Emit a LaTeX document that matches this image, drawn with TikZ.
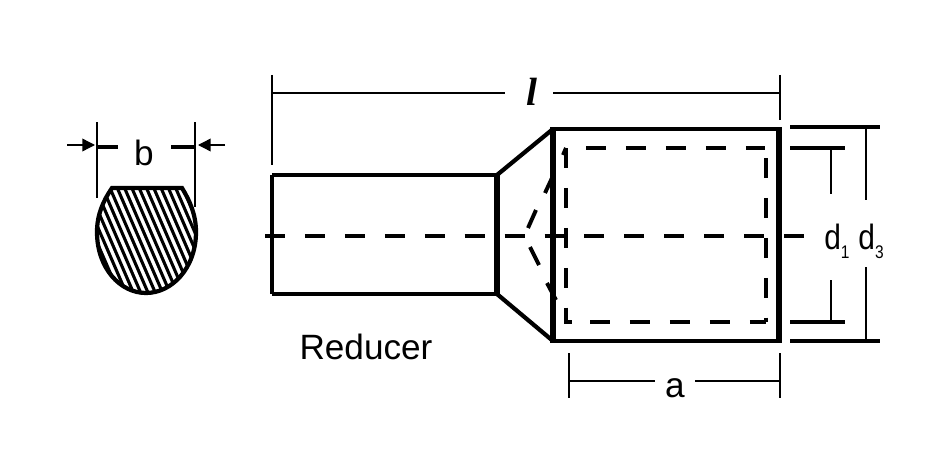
\documentclass[tikz,border=0pt]{standalone}
\usepackage{fontspec}
\setmainfont{Liberation Sans}
\newfontfamily\serifbold{Liberation Serif}
\usetikzlibrary{arrows.meta}
\tikzset{
  outline/.style={line width=3pt},
  heavy/.style={line width=3.6pt},
  dimline/.style={line width=2pt},
  hidden/.style={line width=2.8pt,dash pattern=on 14.2pt off 14.2pt},
  tick/.style={line width=3pt},
  pointer/.style={line width=1pt,-{Triangle[length=9pt,width=9pt]}},
  lbl/.style={font=\fontsize{25}{25}\selectfont,inner sep=0pt}
}
\begin{document}
\begin{tikzpicture}[x=0.025cm,y=-0.025cm]
\useasboundingbox (0,0) rectangle (940,466);
\fill[white] (0,0) rectangle (940,466);

% Cross section
\begin{scope}
\clip (112,188) -- (182,188) .. controls (190,201) and (196,215) .. (196,232)
  .. controls (196,268) and (172,293) .. (146,293)
  .. controls (120,293) and (97,268) .. (97,232)
  .. controls (97,215) and (103,201) .. (112,188) -- cycle;
\foreach \i in {-4,...,17}
  \draw[line width=2.2pt] ({\i*7.3+70},180) -- ({\i*7.3+122},300);
\end{scope}
\draw[outline] (112,188) -- (182,188) .. controls (190,201) and (196,215) .. (196,232)
  .. controls (196,268) and (172,293) .. (146,293)
  .. controls (120,293) and (97,268) .. (97,232)
  .. controls (97,215) and (103,201) .. (112,188) -- cycle;

% Width of the cross section
\draw[dimline] (97,122) -- (97,198);
\draw[dimline] (195,122) -- (195,207);
\draw[tick] (97,147) -- (118,147);
\draw[tick] (171,147) -- (195,147);
\draw[pointer] (67,145) -- (95,145);
\draw[pointer] (225,145) -- (198,145);
\node[lbl] (b) at (144,153) {b};

% Reducer body
\draw[outline] (497,175) -- (272,175);
\draw[outline] (272,294) -- (497,294);
\draw[outline] (272,175) -- (272,294);
\draw[heavy] (497,175) -- (497,294);
\draw[outline] (497,175) -- (553,129);
\draw[outline] (553,341) -- (497,294);
\draw[heavy] (553,127) -- (553,343);
\draw[outline] (553,129) -- (779,129);
\draw[outline] (553,341) -- (779,341);
\draw[heavy] (779,127) -- (779,343);

% Hidden lines
\draw[hidden] (265,236) -- (805,236);
\draw[hidden] (586,148) -- (765,148);
\draw[hidden] (766,158) -- (766,322);
\draw[hidden] (590,322) -- (766,322);
\draw[hidden] (566,148) -- (566,322) -- (572,322);
\draw[line width=2.8pt] (566,148) -- (563,155);
\draw[line width=2.8pt] (552,178) -- (545,193);
\draw[line width=2.8pt] (536,210) -- (528,228);
\draw[line width=2.8pt] (530,247) -- (539,265);
\draw[line width=2.8pt] (547,283) -- (556,300);

% Overall length
\draw[dimline] (272,75) -- (272,165);
\draw[dimline] (780,75) -- (780,120);
\draw[dimline] (272,93) -- (505,93);
\draw[dimline] (553,93) -- (780,93);
\node[font=\serifbold\bfseries\itshape\fontsize{28}{28}\selectfont,inner sep=0pt] (length) at (532,92) {l};

% Length a
\draw[dimline] (569,353) -- (569,398);
\draw[dimline] (780,353) -- (780,398);
\draw[dimline] (569,381) -- (655,381);
\draw[dimline] (695,381) -- (780,381);
\node[lbl] (a) at (675,388) {a};

% Diameters
\draw[tick] (790,127) -- (880,127);
\draw[tick] (790,341) -- (880,341);
\draw[dimline] (866,127) -- (866,200);
\draw[dimline] (866,267) -- (866,341);
\draw[tick] (790,148) -- (845,148);
\draw[tick] (790,322) -- (845,322);
\draw[dimline] (831,148) -- (831,194);
\draw[dimline] (831,280) -- (831,322);
\node[lbl,xscale=0.85] (d1) at (837,241) {d\raisebox{-0.5ex}{\fontsize{13}{13}\selectfont 1}};
\node[lbl,xscale=0.85] (d3) at (871,241) {d\raisebox{-0.5ex}{\fontsize{13}{13}\selectfont 3}};

\node[lbl] (reducer) at (366,347) {Reducer};
\end{tikzpicture}
\end{document}
